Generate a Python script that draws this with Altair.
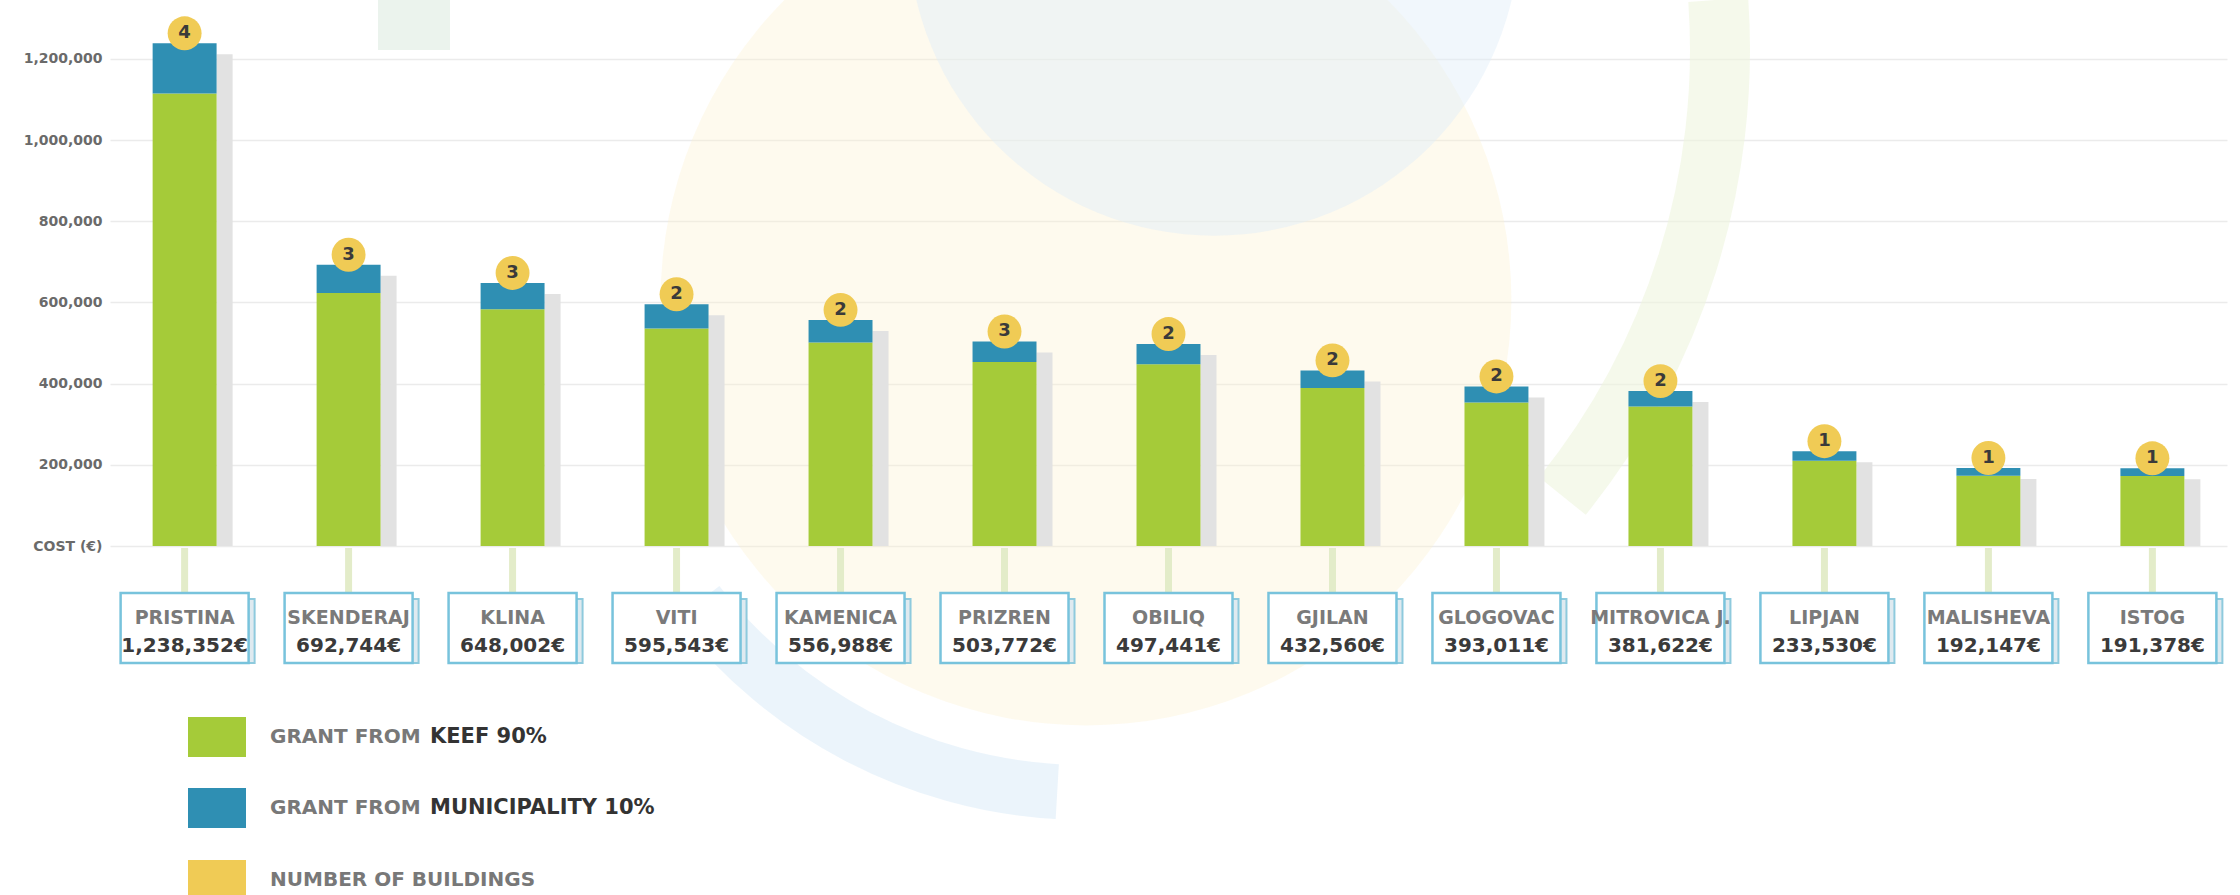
import altair as alt
import pandas as pd

# ---- data ----
cities = ["PRISTINA", "SKENDERAJ", "KLINA", "VITI", "KAMENICA", "PRIZREN", "OBILIQ",
          "GJILAN", "GLOGOVAC", "MITROVICA J.", "LIPJAN", "MALISHEVA", "ISTOG"]
totals = [1238352, 692744, 648002, 595543, 556988, 503772, 497441,
          432560, 393011, 381622, 233530, 192147, 191378]
buildings = [4, 3, 3, 2, 2, 3, 2, 2, 2, 2, 1, 1, 1]
keef_share = 0.90          # "GRANT FROM KEEF 90%"
y_ticks = [0, 200000, 400000, 600000, 800000, 1000000, 1200000]
legend_colors = ["#a5cb39", "#2f8fb3", "#f0cb55"]
legend_light = ["GRANT FROM ", "GRANT FROM ", "NUMBER OF BUILDINGS"]
legend_bold = ["KEEF 90%", "MUNICIPALITY 10%", ""]

df = pd.DataFrame({"city": cities, "total": totals, "buildings": buildings})
df["keef"] = df["total"] * keef_share
df["amount"] = df["total"].map(lambda v: f"{v:,}€")

FONT = "DejaVu Sans"
GREEN, BLUE, YELLOW = legend_colors
W, H = 2117, 546

x_enc = alt.X("city:N", sort=cities, axis=None,
              scale=alt.Scale(paddingInner=0.61, paddingOuter=0.26))
y_scale = alt.Scale(domain=[0, 1345000], nice=False)

base = alt.Chart(df)
dummy = alt.Chart(pd.DataFrame({"k": [0]}))

# faint watermark (logo) shapes
decor = [
    dummy.mark_circle(color="#fcf2cf", opacity=0.35).encode(
        x=alt.value(976), y=alt.value(300), size=alt.value(3.1416 * 480 ** 2)),
    dummy.mark_circle(color="#dfeef8", opacity=0.45).encode(
        x=alt.value(1104), y=alt.value(-70), size=alt.value(3.1416 * 345 ** 2)),
    dummy.mark_arc(color="#e3f0f9", opacity=0.7, theta=3.2, theta2=4.05,
                   radius=520, radius2=465).encode(x=alt.value(976), y=alt.value(300)),
    dummy.mark_arc(color="#eef5dd", opacity=0.6, theta=1.50, theta2=2.25,
                   radius=740, radius2=680).encode(x=alt.value(900), y=alt.value(50)),
    dummy.mark_rect(color="#e6f0e8", opacity=0.8).encode(
        x=alt.value(268), x2=alt.value(340), y=alt.value(0), y2=alt.value(50)),
]

shadow = base.mark_bar(color="#e2e2e2", width=16, xOffset=40, yOffset=11, clip=True).encode(
    x=x_enc, y=alt.Y("total:Q", scale=y_scale), y2=alt.datum(0))

green = base.mark_bar(color=GREEN).encode(
    x=x_enc,
    y=alt.Y("keef:Q", scale=y_scale, title=None,
            axis=alt.Axis(values=y_ticks, ticks=False, domain=False, labelPadding=8,
                          labelFont=FONT, labelFontSize=14, labelFontWeight="bold",
                          labelColor="#6a6a6a", gridColor="#ebebeb", gridWidth=1.5,
                          labelExpr="datum.value == 0 ? 'COST (€)' : format(datum.value, ',')")),
    y2=alt.datum(0))

blue = base.mark_bar(color=BLUE).encode(
    x=x_enc, y=alt.Y("total:Q", scale=y_scale), y2="keef:Q")

badge = base.mark_circle(color=YELLOW, opacity=1, size=1150, yOffset=-10).encode(
    x=x_enc, y=alt.Y("total:Q", scale=y_scale))
badge_txt = base.mark_text(font=FONT, fontSize=18, fontWeight="bold", color="#3a3a3a",
                           yOffset=-10, baseline="middle").encode(
    x=x_enc, y=alt.Y("total:Q", scale=y_scale), text="buildings:Q")

connector = base.mark_rule(color="#e3ecc9", strokeWidth=7).encode(
    x=x_enc, y=alt.value(H + 2), y2=alt.value(593))

box_shadow = base.mark_bar(width=128, xOffset=6, yOffset=6, fill="#dfeaf0",
                           stroke="#8ecadd", strokeWidth=2).encode(
    x=x_enc, y=alt.value(593), y2=alt.value(663))
box = base.mark_bar(width=128, fill="white", stroke="#78c3dc", strokeWidth=2.5).encode(
    x=x_enc, y=alt.value(593), y2=alt.value(663))
name_txt = base.mark_text(font=FONT, fontSize=19, fontWeight="bold", color="#7a7a7a",
                          baseline="middle").encode(
    x=x_enc, y=alt.value(618), text="city:N")
amount_txt = base.mark_text(font=FONT, fontSize=20, fontWeight="bold", color="#3a3a3a",
                            baseline="middle").encode(
    x=x_enc, y=alt.value(646), text="amount:N")

legend_layers = []
row_y = [737, 808, 880]
for c, t1, t2, yc in zip(legend_colors, legend_light, legend_bold, row_y):
    legend_layers.append(dummy.mark_rect(color=c).encode(
        x=alt.value(78), x2=alt.value(136), y=alt.value(yc - 20), y2=alt.value(yc + 20)))
    legend_layers.append(dummy.mark_text(font=FONT, fontSize=20, fontWeight="bold",
                                         color="#787878", align="left", baseline="middle").encode(
        x=alt.value(160), y=alt.value(yc), text=alt.value(t1)))
    if t2:
        legend_layers.append(dummy.mark_text(font=FONT, fontSize=21, fontWeight="bold",
                                             color="#333333", align="left", baseline="middle").encode(
            x=alt.value(320), y=alt.value(yc), text=alt.value(t2)))

chart = alt.layer(*decor, shadow, green, blue, connector, badge, badge_txt,
                  box_shadow, box, name_txt, amount_txt, *legend_layers).properties(
    width=W, height=H,
    autosize=alt.AutoSizeParams(type="none"),
    padding={"left": 110, "top": 0, "right": 13, "bottom": 895 - H},
    background="white",
).configure_view(stroke=None)

chart.save("out.html", embed_options={"renderer": "svg", "actions": False})
